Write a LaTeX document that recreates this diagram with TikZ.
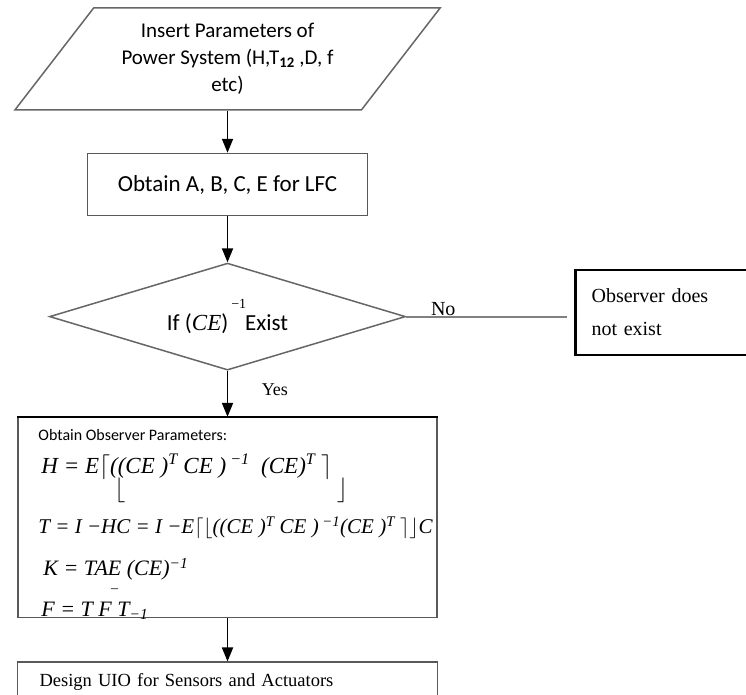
\documentclass[tikz,border=0pt]{standalone}
\usepackage{fontspec}
\setmainfont{Carlito}
\newfontfamily\tms{Liberation Serif}
\usetikzlibrary{shapes.geometric, arrows.meta, positioning, calc}
\tikzset{
  iobox/.style={trapezium, trapezium left angle=50.5, trapezium right angle=129.5,
    trapezium stretches=true, draw=black!60, line width=1.5pt,
    minimum width=427pt, minimum height=102pt, align=center,
    font=\fontsize{21}{27}\selectfont},
  block/.style={rectangle, draw=black!65, line width=1.6pt, align=center},
  decision/.style={diamond, draw=black!60, line width=1.5pt, aspect=3.33,
    minimum width=356pt, minimum height=107pt, inner sep=0pt,
    font=\fontsize{23}{26}\selectfont},
  stopbox/.style={rectangle, draw=black, line width=2.6pt, minimum width=172pt,
    minimum height=85pt, text width=140pt, inner xsep=16pt, align=left,
    font=\tms\fontsize{20}{33}\selectfont},
  eqline/.style={anchor=base west, inner sep=0pt, font=\tms\itshape\fontsize{21}{24}\selectfont},
  lbl/.style={font=\tms\fontsize{18}{20}\selectfont},
  arr/.style={-{Triangle[length=14pt, width=11pt]}, line width=1.8pt},
  noline/.style={draw=black!50, line width=2pt, shorten >=7pt},
}

\begin{document}
\begin{tikzpicture}[x=1pt, y=1pt]
  \useasboundingbox (0,0) rectangle (746,-695);

  \node[iobox] (input) at (227.5,-59) {Insert Parameters of\\Power System (H,T\textsubscript{\textbf{12}} ,D, f\\etc)};
  \node[block, minimum width=280pt, minimum height=62pt, font=\fontsize{23}{27}\selectfont,
    below=42pt of input] (abce) {Obtain A, B, C, E for LFC};
  \node[decision, below=46pt of abce] (exist)
    {If ({\tms\itshape CE})\hspace{3pt}\raisebox{22pt}{\tms\fontsize{14}{14}\selectfont −1}\hspace{-1pt}Exist};
  \node[stopbox, right=168pt of exist, yshift=4pt] (noobs) {Observer does\\not exist};
  \node[block, minimum width=419pt, minimum height=200pt, below=46pt of exist] (params) {};
  \node[block, text width=376pt, inner xsep=22pt, minimum height=40pt, align=left,
    font=\tms\fontsize{18.5}{22}\selectfont, below=43pt of params] (uio) {Design UIO for Sensors and Actuators};

  % observer parameters
  \draw[line width=2.6pt] (params.north west) -- (params.north east);
  \node[anchor=base west, inner sep=0pt, font=\fontsize{16}{18}\selectfont]
    (ptitle) at ($(params.north west)+(21,-24)$) {Obtain Observer Parameters:};
  \node[eqline, font=\tms\itshape\fontsize{23}{26}\selectfont] (hline) at ($(params.north west)+(24,-57)$)
    {H = E$\lceil$((CE )\textsuperscript{T} CE )\textsuperscript{ −1} \ (CE)\textsuperscript{T} $\rceil$};
  \node[eqline, font=\tms\fontsize{23}{26}\selectfont] (hfloorl) at ($(params.north west)+(97,-80)$) {$\lfloor$};
  \node[eqline, anchor=base east, font=\tms\fontsize{23}{26}\selectfont] (hfloorr) at ($(params.north west)+(331,-80)$) {$\rfloor$};
  \node[eqline] (tline) at ($(params.north west)+(21,-117)$)
    {T = I −HC = I −E$\lceil\lfloor$((CE )\textsuperscript{T} CE )\textsuperscript{ −1}(CE )\textsuperscript{T} $\rceil\rfloor$C};
  \node[eqline, font=\tms\itshape\fontsize{22}{24}\selectfont] (kline) at ($(params.north west)+(26,-159)$)
    {K = TAE (CE)\textsuperscript{−1}};
  \node[inner sep=0pt, font=\tms\fontsize{14}{14}\selectfont] (fbar) at ($(params.north west)+(97.5,-174)$) {–};
  \node[eqline, font=\tms\itshape\fontsize{22}{24}\selectfont] (fline) at ($(params.north west)+(24,-200)$)
    {F = T F T\textsubscript{−1}};

  \draw[arr] (input.south) -- (abce.north);
  \draw[arr] (abce) -- (exist);
  \draw[noline] (exist.east) -- node[lbl, above, inner sep=0pt, pos=0.22, font=\tms\fontsize{20}{22}\selectfont] {No} (exist.east -| noobs.west);
  \draw[arr] (exist.south) -- node[lbl, right=30pt, pos=0.4] {Yes} (exist.south |- params.north);
  \draw[arr] (params.south -| abce.south) -- (uio.north -| abce.south);
\end{tikzpicture}
\end{document}
